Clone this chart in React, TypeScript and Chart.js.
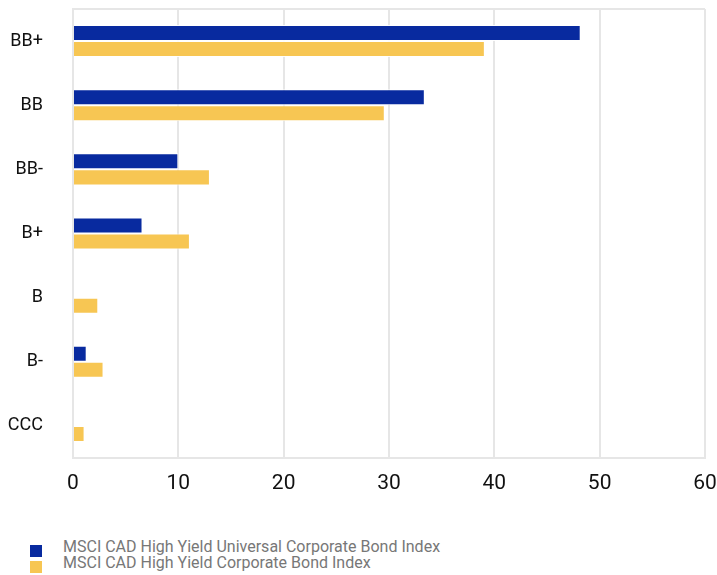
import React, { useEffect, useRef } from "react";
import { Chart, registerables } from "chart.js";

Chart.register(...registerables);

const categories = ["BB+", "BB", "BB-", "B+", "B", "B-", "CCC"];
const universalValues = [48.2, 33.4, 10.0, 6.6, 0, 1.3, 0];
const corporateValues = [39.1, 29.6, 13.0, 11.1, 2.4, 2.9, 1.1];
const seriesNames = [
  "MSCI CAD High Yield Universal Corporate Bond Index",
  "MSCI CAD High Yield Corporate Bond Index",
];
const seriesColors = ["#082a9f", "#f7c653"];
const xTicks = [0, 10, 20, 30, 40, 50, 60];

export default function App() {
  const ref = useRef<HTMLCanvasElement | null>(null);

  useEffect(() => {
    if (!ref.current) return;
    const chart = new Chart(ref.current, {
      type: "bar",
      data: {
        labels: categories,
        datasets: [
          {
            label: seriesNames[0],
            data: universalValues,
            backgroundColor: seriesColors[0],
            borderColor: "rgba(255,255,255,0.9)",
            borderWidth: 1,
            categoryPercentage: 0.5,
            barPercentage: 1,
          },
          {
            label: seriesNames[1],
            data: corporateValues,
            backgroundColor: seriesColors[1],
            borderColor: "rgba(255,255,255,0.9)",
            borderWidth: 1,
            categoryPercentage: 0.5,
            barPercentage: 1,
          },
        ],
      },
      options: {
        indexAxis: "y",
        responsive: false,
        animation: false,
        layout: { padding: { top: 9, left: 8, right: 0, bottom: 0 } },
        plugins: { legend: { display: false }, tooltip: { enabled: false } },
        scales: {
          x: {
            min: xTicks[0],
            max: xTicks[xTicks.length - 1],
            afterBuildTicks: (axis: any) => {
              axis.ticks = xTicks.map((v) => ({ value: v }));
            },
            afterFit: (axis: any) => {
              axis.height = 42;
              axis.paddingLeft = 0;
              axis.paddingRight = 12;
            },
            grid: { color: "#e6e6e6", lineWidth: 2, drawTicks: false },
            border: { color: "#e6e6e6", width: 2 },
            ticks: {
              padding: 13,
              color: "#111",
              font: { family: "Roboto", size: 21 },
            },
          },
          y: {
            afterFit: (axis: any) => {
              axis.width = 65;
              axis.paddingTop = 0;
              axis.paddingBottom = 0;
            },
            grid: { display: false, drawTicks: false },
            border: { color: "#e6e6e6", width: 2 },
            ticks: {
              padding: 30,
              color: "#111",
              font: { family: "Roboto", size: 18 },
            },
          },
        },
      },
      plugins: [
        {
          id: "frame",
          afterDraw(c: any) {
            const { ctx, chartArea } = c;
            ctx.save();
            ctx.strokeStyle = "#e6e6e6";
            ctx.lineWidth = 2;
            ctx.beginPath();
            ctx.moveTo(chartArea.left, chartArea.top);
            ctx.lineTo(chartArea.right, chartArea.top);
            ctx.stroke();
            ctx.restore();
          },
        },
      ],
    });
    return () => chart.destroy();
  }, []);

  return (
    <div
      style={{
        position: "fixed",
        left: 0,
        top: 0,
        width: 717,
        height: 575,
        background: "#fff",
        overflow: "hidden",
      }}
    >
      <canvas ref={ref} width={717} height={500} style={{ display: "block" }} />
      {seriesNames.map((name, i) => (
        <div
          key={name}
          style={{
            position: "absolute",
            left: 30,
            top: 539 + i * 16,
            height: 16,
            display: "flex",
            alignItems: "flex-start",
            fontFamily: "Roboto",
            fontSize: 16,
            color: "#777",
            lineHeight: "16px",
            whiteSpace: "nowrap",
          }}
        >
          <span
            style={{
              display: "inline-block",
              width: 12,
              height: 12,
              marginTop: 6,
              background: seriesColors[i],
            }}
          />
          <span style={{ marginLeft: 21 }}>{name}</span>
        </div>
      ))}
    </div>
  );
}
